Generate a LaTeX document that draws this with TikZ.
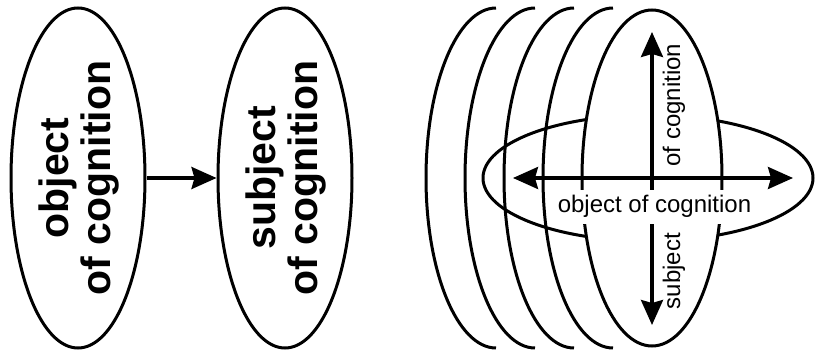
\documentclass[tikz,border=0pt]{standalone}
\usepackage{fontspec}
\setmainfont{Liberation Sans}
\usetikzlibrary{shapes.geometric,arrows.meta}
\begin{document}
\begin{tikzpicture}[x=1pt,y=1pt,
  outl/.style={draw=black,line width=3pt},
  bigell/.style={ellipse,outl,inner sep=0pt,minimum width=134pt,minimum height=340pt},
  boldlbl/.style={rotate=90,align=center,inner sep=0pt,font=\fontsize{41}{42}\selectfont\bfseries},
  lbl/.style={inner sep=0pt,font=\fontsize{24}{26}\selectfont},
  tip/.tip={Stealth[length=25pt,width=22pt,inset=3pt]},
  arr/.style={line width=3.3pt,-tip},
  darr/.style={line width=3.3pt,tip-tip},
]
\useasboundingbox (0,0) rectangle (815,354);
% left part
\node[bigell] (e1) at (78,176) {};
\node[bigell] (e2) at (285,176) {};
\node[boldlbl] (t1) at (79,176) {object\\of cognition};
\node[boldlbl] (t2) at (286,176) {subject\\of cognition};
\draw[arr] (e1.east) -- (e2.west);
% right part: arcs behind
\foreach \cx in {496,535,574,613}{
  \draw[outl] (\cx,346) arc[start angle=90,end angle=270,x radius=70,y radius=170];
}
\node[ellipse,outl,inner sep=0pt,minimum width=330pt,minimum height=126pt] (he) at (648,176) {};
\node[ellipse,outl,fill=white,inner sep=0pt,minimum width=140pt,minimum height=336pt] (fe) at (652,176) {};
\coordinate (hl) at (513,176);
\coordinate (hr) at (793,176);
\coordinate (vt) at (652,322);
\coordinate (vb) at (652,29);
\draw[darr] (hl) -- (hr);
\draw[darr] (vt) -- (vb);
\node[lbl,fill=white,inner xsep=2pt,inner ysep=6pt,anchor=base] (obj) at (654.5,141) {object of cognition};
\node[lbl,rotate=90,anchor=base] (ofc) at (680,249) {of cognition};
\node[lbl,rotate=90,anchor=base] (sub) at (680,83) {subject};
\end{tikzpicture}
\end{document}
